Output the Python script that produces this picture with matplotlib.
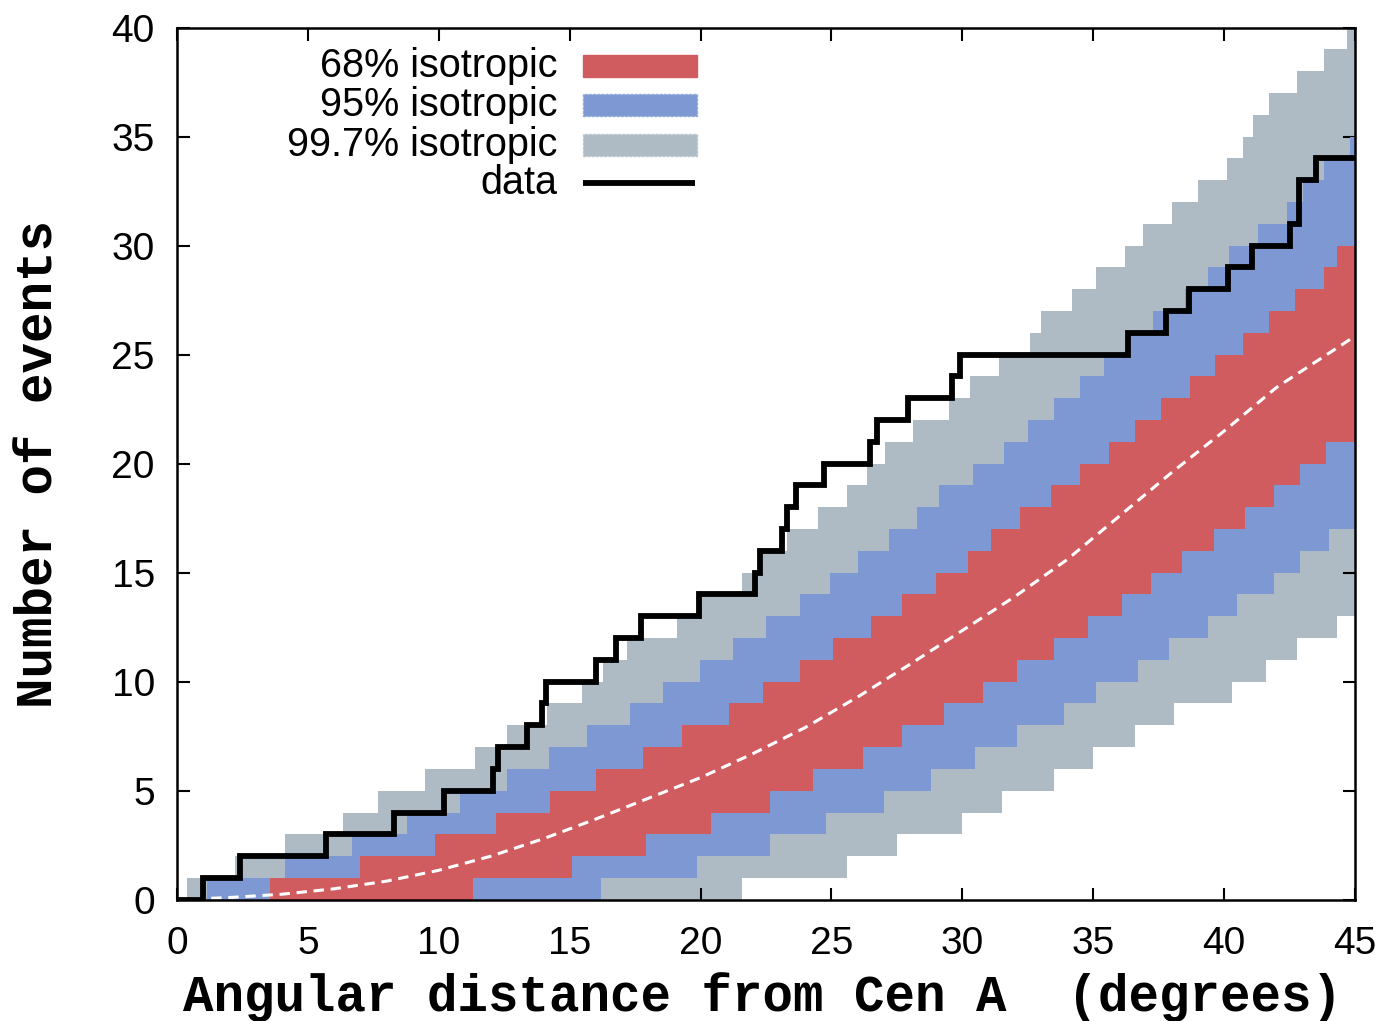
import numpy as np
import matplotlib
matplotlib.use("Agg")
import matplotlib.pyplot as plt
from matplotlib.patches import Rectangle
from matplotlib.lines import Line2D

# ---- observed cumulative counts (step function: count becomes value at angle) ----
data_angles = [0.0, 1.0, 2.4, 5.7, 8.3, 10.2, 12.07, 12.26, 13.37, 13.93, 14.08,
               16.0, 16.75, 17.72, 19.93, 22.08, 22.27, 23.1, 23.3, 23.65, 24.7,
               26.47, 26.72, 27.93, 29.59, 29.9, 36.34, 37.77, 38.65, 40.15, 41.07,
               42.5, 42.87, 43.52]
data_counts = [0, 1, 2, 3, 4, 5, 6, 7, 8, 9, 10,
               11, 12, 13, 14, 15, 16, 17, 18, 19, 20,
               21, 22, 23, 24, 25, 26, 27, 28, 29, 30,
               31, 33, 34]

# ---- isotropic expectation bands (angle where boundary steps, new level) ----
b997_hi_x = [0.37, 2.2, 4.13, 6.35, 7.68, 9.47, 11.38, 12.59, 14.12, 15.46,
             16.28, 17.2, 19.1, 19.9, 21.6, 22.4, 23.29, 24.5, 25.6, 26.35,
             27.04, 28.1, 29.5, 30.3, 31.4, 32.6, 33.0, 34.2, 35.1, 36.2,
             36.9, 38.0, 39.0, 40.1, 40.7, 41.1, 41.7, 42.8, 43.8, 44.7]
b997_hi_y = [1, 2, 3, 4, 5, 6, 7, 8, 9, 10,
             11, 12, 13, 14, 15, 16, 17, 18, 19, 20,
             21, 22, 23, 24, 25, 26, 27, 28, 29, 30,
             31, 32, 33, 34, 35, 36, 37, 38, 39, 40]
b997_lo_x = [21.57, 25.6, 27.5, 30.0, 31.5, 33.5, 35.0, 36.6, 38.1, 40.3,
             41.6, 42.8, 44.3]
b997_lo_y = [1, 2, 3, 4, 5, 6, 7, 8, 9, 10, 11, 12, 13]

b95_hi_x = [1.13, 4.13, 6.7, 8.77, 10.8, 12.6, 14.2, 15.65, 17.3, 18.57,
            19.98, 21.25, 22.5, 23.8, 24.94, 26.0, 27.2, 28.25, 29.1, 30.4,
            31.6, 32.5, 33.5, 34.5, 35.4, 36.4, 37.3, 38.5, 39.4, 40.2,
            41.3, 42.4, 43.0, 43.8, 44.8]
b95_hi_y = [1, 2, 3, 4, 5, 6, 7, 8, 9, 10,
            11, 12, 13, 14, 15, 16, 17, 18, 19, 20,
            21, 22, 23, 24, 25, 26, 27, 28, 29, 30,
            31, 32, 33, 34, 35]
b95_lo_x = [16.2, 19.85, 22.65, 24.8, 27.0, 28.8, 30.5, 32.1, 33.9, 35.1,
            36.7, 37.9, 39.4, 40.5, 41.9, 42.9, 44.0]
b95_lo_y = [1, 2, 3, 4, 5, 6, 7, 8, 9, 10, 11, 12, 13, 14, 15, 16, 17]

b68_hi_x = [3.55, 7.0, 9.85, 12.2, 14.25, 16.0, 17.8, 19.3, 21.1, 22.4,
            23.8, 25.06, 26.5, 27.7, 29.0, 30.2, 31.1, 32.2, 33.4, 34.5,
            35.6, 36.6, 37.6, 38.7, 39.65, 40.7, 41.7, 42.7, 43.8, 44.3]
b68_hi_y = [1, 2, 3, 4, 5, 6, 7, 8, 9, 10,
            11, 12, 13, 14, 15, 16, 17, 18, 19, 20,
            21, 22, 23, 24, 25, 26, 27, 28, 29, 30]
b68_lo_x = [11.3, 15.1, 17.9, 20.4, 22.65, 24.3, 26.2, 27.7, 29.3, 30.8,
            32.1, 33.5, 34.8, 36.1, 37.2, 38.4, 39.6, 40.8, 41.9, 42.9, 43.9]
b68_lo_y = [1, 2, 3, 4, 5, 6, 7, 8, 9, 10,
            11, 12, 13, 14, 15, 16, 17, 18, 19, 20, 21]

# mean isotropic expectation
mean_x = [0, 2, 4, 6, 8, 10, 12, 14, 16, 18, 20, 22, 24, 26, 28, 30, 32, 34,
          36, 38, 40, 42, 45]
mean_y = [0.0, 0.1, 0.25, 0.5, 0.85, 1.35, 2.0, 2.8, 3.7, 4.65, 5.6, 6.7, 7.9,
          9.3, 10.8, 12.35, 13.9, 15.6, 17.6, 19.6, 21.5, 23.5, 25.85]

X_MAX = 45.0
RED = "#d15c60"
BLUE = "#7d98d3"
GREY = "#aebbc5"

plt.rcParams["font.family"] = ["Liberation Sans", "DejaVu Sans"]

fig = plt.figure(figsize=(13.84, 10.21), dpi=100)
ax = fig.add_axes([0.1279, 0.1188, 0.8512, 0.8541])


def step_levels(edges, xs, ys):
    """Evaluate a right-continuous step boundary at the given edges."""
    idx = np.searchsorted(np.asarray(xs), edges, side="right") - 1
    vals = np.where(idx >= 0, np.asarray(ys)[np.clip(idx, 0, None)], 0)
    return vals.astype(float)


def draw_band(lo_x, lo_y, hi_x, hi_y, color, z):
    edges = np.unique(np.concatenate([[0.0, X_MAX], lo_x, hi_x]))
    lo = step_levels(edges, lo_x, lo_y)
    hi = step_levels(edges, hi_x, hi_y)
    ax.fill_between(edges, lo, hi, step="post", color=color, lw=0, zorder=z)


draw_band(b997_lo_x, b997_lo_y, b997_hi_x, b997_hi_y, GREY, 1)
draw_band(b95_lo_x, b95_lo_y, b95_hi_x, b95_hi_y, BLUE, 2)
draw_band(b68_lo_x, b68_lo_y, b68_hi_x, b68_hi_y, RED, 3)

ax.plot(mean_x, mean_y, color="white", lw=2.2, ls=(0, (3.4, 2.2)), zorder=4)

ax.step(data_angles + [X_MAX], data_counts + [data_counts[-1]], where="post",
        color="black", lw=4.2, solid_joinstyle="miter", solid_capstyle="butt",
        zorder=5)

ax.set_xlim(0, 45)
ax.set_ylim(0, 40)
ax.set_xticks(np.arange(0, 46, 5))
ax.set_yticks(np.arange(0, 41, 5))
ax.tick_params(direction="in", length=9, width=1.5, top=True, right=True,
               labelsize=28)
ax.tick_params(axis="x", pad=19)
ax.tick_params(axis="y", pad=16)
for sp in ax.spines.values():
    sp.set_linewidth(1.8)
    sp.set_zorder(6)

mono = {"family": ["Liberation Mono", "DejaVu Sans Mono"], "weight": "bold",
        "size": 36.5}
ax.set_xlabel("Angular distance from Cen A  (degrees)", fontdict=mono,
              va="center")
ax.xaxis.set_label_coords(0.4966, -0.1116)
ax.set_ylabel("Number of events", fontdict=mono, va="center")
ax.yaxis.set_label_coords(-0.117, 0.4997)

# legend, drawn in axes coordinates
W, H = 1178.0, 872.2


def ax_xy(px, py):
    return (px - 177.0) / W, (899.7 - py) / H


rows = [("68% isotropic", 66), ("95% isotropic", 105),
        ("99.7% isotropic", 145), ("data", 183)]
for label, py in rows:
    tx, ty = ax_xy(557, py)
    ax.text(tx, ty, label, transform=ax.transAxes, ha="right", va="center",
            fontsize=28.5, zorder=7)

for color, py, edge in [(RED, 66, RED), (BLUE, 105, "#93aadb"),
                        (GREY, 145, "#bcc7cf")]:
    x0, y0 = ax_xy(583, py + 11)
    x1, y1 = ax_xy(697, py - 11)
    ax.add_patch(Rectangle((x0, y0), x1 - x0, y1 - y0, transform=ax.transAxes,
                           facecolor=color, edgecolor=edge, lw=1.0,
                           ls=(0, (2, 1)) if edge != color else "-", zorder=7))
lx0, ly = ax_xy(583, 183)
lx1, _ = ax_xy(695, 183)
ax.add_line(Line2D([lx0, lx1], [ly, ly], transform=ax.transAxes, color="black",
                   lw=4.2, solid_capstyle="butt", zorder=7))

fig.savefig("out.png", dpi=100)
